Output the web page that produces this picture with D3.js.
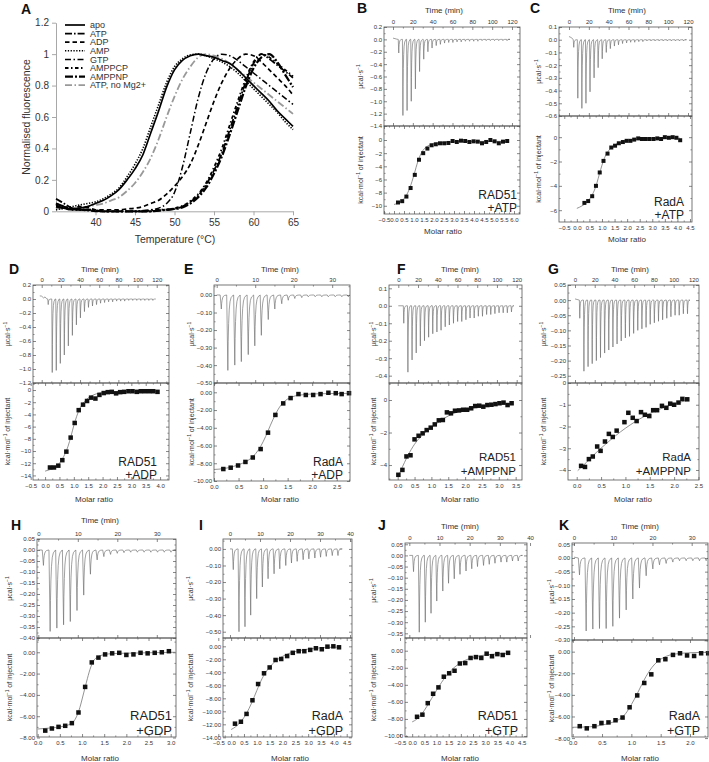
<!DOCTYPE html>
<html><head><meta charset="utf-8">
<script src="https://cdn.jsdelivr.net/npm/d3@7"></script>
<style>body{margin:0;background:#fff}svg{display:block}</style>
</head><body>
<script>
// ================= PANEL A: thermal shift data =================
const meltTemps = [35,36,37,38,39,40,41,42,43,44,45,46,47,48,49,50,51,52,53,54,55,56,57,58,59,60,61,62,63,64,65];
const meltSeries = ['apo','ATP','ADP','AMP','GTP','AMPPCP','AMPPNP','ATP, no Mg2+'];
const melt_apo    = [0.03,0.02,0.015,0.02,0.03,0.05,0.07,0.1,0.14,0.2,0.27,0.36,0.5,0.64,0.79,0.9,0.96,0.99,1.0,0.99,0.98,0.96,0.94,0.9,0.85,0.8,0.75,0.7,0.64,0.59,0.54];
const melt_ATP    = [0.08,0.05,0.02,0.01,0.005,0,0,0,0,0,0,0,0,0.005,0.01,0.015,0.03,0.06,0.1,0.17,0.26,0.37,0.52,0.67,0.82,0.94,1.0,0.97,0.93,0.89,0.85];
const melt_ADP    = [0.05,0.03,0.015,0.03,0.025,0.01,0.01,0.01,0.01,0.015,0.02,0.03,0.05,0.07,0.11,0.16,0.22,0.3,0.42,0.56,0.7,0.82,0.91,0.97,1.0,0.99,0.95,0.9,0.85,0.8,0.74];
const melt_AMP    = [0.01,0.02,0.03,0.04,0.05,0.06,0.08,0.11,0.15,0.22,0.3,0.4,0.54,0.68,0.82,0.92,0.97,0.995,1.0,0.99,0.97,0.95,0.92,0.88,0.83,0.78,0.73,0.68,0.63,0.57,0.52];
const melt_GTP    = [0.04,0.02,0.01,0.01,0.01,0,0,0,0,0,0,0.005,0.01,0.02,0.05,0.12,0.28,0.5,0.72,0.88,0.97,1.0,0.99,0.96,0.92,0.88,0.84,0.8,0.76,0.72,0.68];
const melt_AMPPCP = [0.03,0.02,0.01,0.01,0.01,0.005,0,0,0,0,0,0,0.005,0.01,0.01,0.02,0.035,0.065,0.11,0.18,0.28,0.4,0.55,0.7,0.84,0.95,1.0,0.98,0.94,0.9,0.86];
const melt_AMPPNP = [0.05,0.03,0.015,0.01,0.01,0.005,0,0,0,0,0,0,0,0.005,0.01,0.015,0.025,0.05,0.09,0.15,0.24,0.35,0.49,0.64,0.79,0.91,0.98,1.0,0.95,0.87,0.79];
const melt_noMg   = [0.02,0.015,0.02,0.02,0.03,0.04,0.05,0.07,0.09,0.13,0.18,0.25,0.34,0.46,0.6,0.73,0.84,0.92,0.98,1.0,0.99,0.97,0.94,0.9,0.86,0.82,0.78,0.74,0.7,0.66,0.62];
const meltYTicks = [0,0.2,0.4,0.6,0.8,1,1.2];
const meltYLabels = ['0','0.2','0.4','0.6','0.8','1','1.2'];
const meltXTicks = [40,45,50,55,60,65];
const meltXLabels = ['40','45','50','55','60','65'];

// ================= ITC data (injection times min, peak µcal/s; molar ratio, kcal/mol) =================
const T120 = [0,20,40,60,80,100,120], T30 = [0,10,20,30], T40 = [0,10,20,30,40];

const B_injT = [5.3,9.5,13.7,17.9,22.1,26.3,30.5,34.7,38.9,43.1,47.3,51.5,55.7,59.9,64.1,68.3,72.5,76.7,80.9,85.1,89.3,93.5,97.7,101.9,106.1,110.3,114.5];
const B_injD = [-0.22,-1.23,-1.15,-1.0,-0.8,-0.52,-0.32,-0.2,-0.14,-0.1,-0.08,-0.06,-0.05,-0.05,-0.04,-0.04,-0.03,-0.03,-0.03,-0.03,-0.02,-0.02,-0.02,-0.02,-0.02,-0.02,-0.02];
const B_pre = [[0,0.02],[2,0.012],[4,0.003]];
const B_ratio = [0.20,0.41,0.62,0.83,1.04,1.25,1.46,1.67,1.88,2.09,2.30,2.51,2.72,2.93,3.14,3.35,3.56,3.77,3.98,4.19,4.40,4.61,4.82,5.03,5.24,5.45,5.66];
const B_heat = [-9.5,-9.3,-8.6,-7.3,-5.3,-3.0,-2.0,-1.3,-0.8,-0.65,-0.5,-0.5,-0.45,-0.15,-0.3,-0.1,-0.15,-0.3,-0.2,-0.25,-0.5,-0.3,0.0,-0.2,-0.5,-0.25,-0.15];
const B_fitX = [0,0.2,0.4,0.6,0.8,0.9,1.0,1.1,1.2,1.3,1.4,1.6,1.8,2.0,2.4,3.0,4.0,5.7];
const B_fitY = [-9.8,-9.6,-9.2,-8.5,-7.2,-6.3,-5.3,-4.2,-3.2,-2.4,-1.8,-1.1,-0.75,-0.55,-0.38,-0.28,-0.22,-0.2];
const B_uT = [0.2,0,-0.2,-0.4,-0.6,-0.8,-1.0,-1.2,-1.4], B_lT = [0,-2,-4,-6,-8,-10];
const B_rT = [-0.5,0,0.5,1,1.5,2,2.5,3,3.5,4,4.5,5,5.5,6];

const C_injT = [4.3,8.4,12.5,16.6,20.7,24.8,28.9,33.0,37.1,41.2,45.3,49.4,53.5,57.6,61.7,65.8,69.9,74.0,78.1,82.2,86.3,90.4,94.5,98.6,102.7,106.8,110.9,115.0];
const C_injD = [-0.06,-0.46,-0.54,-0.5,-0.41,-0.3,-0.22,-0.15,-0.1,-0.07,-0.05,-0.04,-0.03,-0.025,-0.02,-0.02,-0.015,-0.015,-0.01,-0.01,-0.01,-0.01,-0.01,-0.01,-0.01,-0.01,-0.01,-0.01];
const C_pre = [[0,0.025],[2,0.018],[4,0.005]];
const C_ratio = [0.30,0.45,0.61,0.76,0.91,1.06,1.22,1.37,1.52,1.67,1.83,1.98,2.13,2.28,2.44,2.59,2.74,2.89,3.05,3.20,3.35,3.50,3.66,3.81,3.96,4.11];
const C_heat = [-5.4,-5.25,-4.85,-4.0,-2.9,-1.95,-1.35,-0.85,-0.7,-0.5,-0.4,-0.3,-0.3,-0.2,-0.1,-0.15,-0.15,-0.15,-0.15,-0.1,-0.15,0.0,-0.05,0.0,-0.05,-0.25];
const C_fitX = [0,0.2,0.4,0.55,0.7,0.8,0.9,1.0,1.1,1.2,1.35,1.5,1.8,2.2,3.0,4.1];
const C_fitY = [-5.85,-5.65,-5.35,-4.95,-4.35,-3.75,-3.0,-2.3,-1.7,-1.3,-0.9,-0.65,-0.38,-0.22,-0.12,-0.08];
const C_uT = [0.1,0,-0.1,-0.2,-0.3,-0.4,-0.5,-0.6], C_lT = [0,-2,-4,-6];
const C_rT = [-0.5,0,0.5,1,1.5,2,2.5,3,3.5,4,4.5];

const D_injT = [6.3,10.5,14.7,18.9,23.1,27.3,31.5,35.7,39.9,44.1,48.3,52.5,56.7,60.9,65.1,69.3,73.5,77.7,81.9,86.1,90.3,94.5,98.7,102.9,107.1,111.3,115.5];
const D_injD = [-0.08,-1.05,-1.02,-0.92,-0.8,-0.67,-0.52,-0.37,-0.27,-0.18,-0.12,-0.1,-0.08,-0.06,-0.05,-0.04,-0.04,-0.03,-0.03,-0.03,-0.02,-0.02,-0.02,-0.02,-0.02,-0.02,-0.02];
const D_pre = [[-2,0.045],[0,0.04],[2,0.015],[3.5,0.03],[5,0.005]];
const D_ratio = [0.17,0.31,0.46,0.60,0.74,0.89,1.03,1.17,1.32,1.46,1.60,1.75,1.89,2.04,2.18,2.32,2.47,2.61,2.75,2.90,3.04,3.19,3.33,3.47,3.62,3.76,3.91];
const D_heat = [-12.7,-12.7,-12.4,-11.5,-10.1,-7.8,-5.4,-3.3,-2.4,-1.8,-1.25,-1.4,-0.8,-0.5,-0.35,-0.3,-0.55,-0.35,-0.3,-0.2,-0.2,-0.3,-0.2,-0.2,-0.2,-0.2,-0.3];
const D_fitX = [0,0.2,0.35,0.5,0.6,0.7,0.8,0.9,1.0,1.1,1.2,1.3,1.45,1.6,1.8,2.1,2.6,3.9];
const D_fitY = [-13.3,-13.0,-12.7,-12.0,-11.3,-10.4,-9.2,-7.6,-5.8,-4.3,-3.1,-2.3,-1.5,-1.0,-0.6,-0.35,-0.25,-0.2];
const D_uT = [0.2,0,-0.2,-0.4,-0.6,-0.8,-1.0,-1.2], D_lT = [0,-2,-4,-6,-8,-10,-12,-14];
const D_rT = [-0.5,0,0.5,1,1.5,2,2.5,3,3.5,4];

const E_injT = [0.9,2.6,4.4,6.1,7.9,9.6,11.3,13.1,14.8,16.6,18.3,20.0,21.8,23.5,25.3,27.0,28.7,30.5,32.2,33.9];
const E_injD = [-0.08,-0.43,-0.4,-0.38,-0.34,-0.29,-0.23,-0.14,-0.08,-0.05,-0.03,-0.02,-0.015,-0.01,-0.01,-0.01,-0.01,-0.01,-0.01,-0.01];
const E_pre = [[0,0]];
const E_ratio = [0.19,0.34,0.49,0.64,0.79,0.95,1.10,1.25,1.41,1.56,1.72,1.87,2.02,2.17,2.33,2.48,2.60,2.75];
const E_heat = [-8.65,-8.5,-8.25,-7.85,-7.35,-6.4,-4.55,-2.55,-1.25,-0.65,-0.2,-0.3,-0.3,-0.2,-0.05,-0.1,-0.2,-0.1];
const E_fitX = [0,0.2,0.4,0.6,0.75,0.85,0.95,1.05,1.15,1.25,1.35,1.45,1.6,1.8,2.1,2.75];
const E_fitY = [-8.7,-8.6,-8.35,-7.95,-7.45,-6.9,-6.1,-5.0,-3.7,-2.5,-1.55,-0.95,-0.5,-0.28,-0.17,-0.12];
const E_uT = [0,-0.1,-0.2,-0.3,-0.4,-0.5], E_lT = [0,-2,-4,-6,-8,-10];
const E_rT = [0,0.5,1,1.5,2,2.5];

const F_injT = [5.1,9.3,13.5,17.7,21.9,26.1,30.3,34.5,38.7,42.9,47.1,51.3,55.5,59.7,63.9,68.1,72.3,76.5,80.7,84.9,89.1,93.3,97.5,101.7,105.9,110.1,114.3];
const F_injD = [-0.1,-0.38,-0.31,-0.27,-0.23,-0.2,-0.18,-0.16,-0.15,-0.14,-0.12,-0.11,-0.1,-0.09,-0.09,-0.08,-0.07,-0.07,-0.06,-0.06,-0.05,-0.05,-0.045,-0.04,-0.04,-0.04,-0.035];
const F_pre = [[0,0]];
const F_ratio = [0.02,0.14,0.26,0.38,0.50,0.62,0.74,0.86,0.98,1.10,1.22,1.34,1.46,1.58,1.70,1.82,1.94,2.06,2.18,2.30,2.42,2.54,2.66,2.78,2.90,3.02,3.14,3.26,3.38];
const F_heat = [-4.6,-4.3,-3.47,-3.4,-2.42,-2.2,-2.05,-1.85,-1.7,-1.5,-1.25,-1.23,-0.76,-0.82,-0.66,-0.64,-0.6,-0.6,-0.51,-0.37,-0.35,-0.41,-0.31,-0.29,-0.25,-0.2,-0.16,-0.31,-0.2];
const F_fitX = [0.02,0.1,0.2,0.3,0.4,0.5,0.6,0.8,1.0,1.2,1.4,1.6,1.8,2.0,2.4,2.8,3.37];
const F_fitY = [-4.7,-4.3,-3.85,-3.42,-3.05,-2.72,-2.45,-2.02,-1.68,-1.38,-1.1,-0.88,-0.72,-0.6,-0.43,-0.32,-0.22];
const F_uT = [0.1,0,-0.1,-0.2,-0.3,-0.4], F_lT = [0,-2,-4];
const F_rT = [0,0.5,1,1.5,2,2.5,3,3.5];

const G_injT = [4.4,8.6,12.8,17.0,21.2,25.4,29.6,33.8,38.0,42.2,46.4,50.6,54.8,59.0,63.2,67.4,71.6,75.8,80.0,84.2,88.4,92.6,96.8,101.0,105.2,109.4,113.6];
const G_injD = [-0.06,-0.235,-0.22,-0.21,-0.2,-0.19,-0.175,-0.165,-0.155,-0.145,-0.135,-0.125,-0.12,-0.11,-0.1,-0.095,-0.09,-0.08,-0.075,-0.07,-0.065,-0.06,-0.055,-0.05,-0.05,-0.045,-0.045];
const G_pre = [[0,0.004]];
const G_ratio = [0.09,0.17,0.25,0.33,0.42,0.49,0.58,0.66,0.74,0.82,0.98,1.06,1.15,1.23,1.32,1.40,1.49,1.57,1.65,1.75,1.84,1.92,2.00,2.09,2.17,2.27];
const G_heat = [-3.81,-3.86,-3.5,-3.38,-2.92,-3.12,-2.69,-2.34,-2.48,-2.19,-1.8,-1.37,-1.6,-1.75,-1.34,-1.46,-1.52,-1.25,-1.25,-1.05,-1.14,-0.95,-1.0,-0.9,-0.73,-0.75];
const G_fitX = [0.02,0.2,0.4,0.6,0.8,1.0,1.2,1.4,1.6,1.8,2.0,2.27];
const G_fitY = [-4.03,-3.65,-3.2,-2.8,-2.42,-2.08,-1.78,-1.52,-1.3,-1.12,-0.96,-0.8];
const G_uT = [0.05,0,-0.05,-0.1,-0.15,-0.2,-0.25], G_lT = [0,-1,-2,-3,-4];
const G_rT = [0,0.5,1,1.5,2,2.5];

const H_injT = [1.0,2.7,4.4,6.1,7.8,9.5,11.2,12.9,14.6,16.3,18.0,19.7,21.4,23.1,24.8,26.5,28.2,29.9,31.6,33.3];
const H_injD = [-0.07,-0.37,-0.355,-0.34,-0.325,-0.275,-0.205,-0.11,-0.045,-0.03,-0.02,-0.015,-0.012,-0.01,-0.01,-0.01,-0.01,-0.01,-0.01,-0.01];
const H_pre = [[0,0]];
const H_ratio = [0.17,0.32,0.47,0.62,0.77,0.92,1.07,1.22,1.37,1.52,1.68,1.84,2.00,2.16,2.32,2.48,2.64,2.80,2.96];
const H_heat = [-7.35,-7.15,-7.0,-6.9,-6.65,-5.65,-3.25,-0.95,-0.5,-0.2,-0.1,-0.05,-0.25,-0.2,-0.05,-0.1,-0.05,0.0,0.1];
const H_fitX = [0,0.3,0.5,0.7,0.8,0.88,0.95,1.02,1.1,1.18,1.26,1.35,1.5,1.7,2.2,3.1];
const H_fitY = [-7.2,-7.1,-7.0,-6.8,-6.55,-6.0,-5.2,-4.1,-2.8,-1.6,-0.8,-0.45,-0.22,-0.12,-0.07,0.0];
const H_uT = [0.05,0,-0.05,-0.1,-0.15,-0.2,-0.25,-0.3,-0.35,-0.4], H_lT = [0,-2,-4,-6,-8];
const H_rT = [0,0.5,1,1.5,2,2.5,3];

const I_injT = [0.8,2.7,4.7,6.6,8.6,10.5,12.4,14.4,16.3,18.3,20.2,22.1,24.1,26.0,28.0,29.9,31.8,33.8,35.7];
const I_injD = [-0.125,-0.5,-0.47,-0.4,-0.3,-0.23,-0.18,-0.15,-0.12,-0.1,-0.085,-0.075,-0.065,-0.06,-0.055,-0.05,-0.045,-0.04,-0.04];
const I_pre = [[0,0]];
const I_ratio = [0.15,0.38,0.60,0.83,1.05,1.28,1.50,1.73,1.95,2.18,2.40,2.63,2.85,3.08,3.30,3.53,3.75,3.98,4.20];
const I_heat = [-11.9,-11.6,-10.4,-8.3,-5.8,-4.15,-3.25,-2.1,-1.95,-1.5,-1.0,-0.75,-0.75,-0.55,-0.3,-0.45,-0.05,0.0,-0.15];
const I_fitX = [0,0.2,0.4,0.6,0.8,1.0,1.2,1.4,1.6,1.8,2.0,2.4,2.8,3.2,3.8,4.2];
const I_fitY = [-12.8,-12.3,-11.5,-10.3,-8.7,-6.8,-5.0,-3.7,-2.75,-2.05,-1.55,-0.9,-0.55,-0.33,-0.17,-0.12];
const I_uT = [0,-0.1,-0.2,-0.3,-0.4,-0.5], I_lT = [0,-2,-4,-6,-8,-10,-12,-14];
const I_rT = [-0.5,0,0.5,1,1.5,2,2.5,3,3.5,4,4.5];

const J_injT = [1.1,3.0,5.0,6.9,8.8,10.8,12.7,14.6,16.5,18.5,20.4,22.3,24.3,26.2,28.1,30.1,32.0,33.9,35.8];
const J_injD = [-0.073,-0.345,-0.3,-0.26,-0.205,-0.16,-0.125,-0.105,-0.085,-0.07,-0.06,-0.05,-0.045,-0.04,-0.035,-0.03,-0.03,-0.025,-0.025];
const J_pre = [[0,0]];
const J_ratio = [0.20,0.42,0.64,0.86,1.08,1.30,1.52,1.74,1.96,2.18,2.40,2.62,2.84,3.06,3.28,3.50,3.72,3.94];
const J_heat = [-7.75,-7.5,-6.15,-5.05,-4.3,-3.05,-2.65,-2.35,-1.5,-1.45,-0.85,-0.75,-0.85,-0.35,-0.65,-0.4,-0.5,-0.25];
const J_fitX = [0,0.2,0.4,0.6,0.8,1.0,1.2,1.4,1.6,1.8,2.0,2.2,2.5,3.0,3.5,4.0];
const J_fitY = [-8.35,-8.0,-7.4,-6.55,-5.6,-4.65,-3.75,-2.95,-2.3,-1.8,-1.4,-1.1,-0.78,-0.5,-0.37,-0.3];
const J_uT = [0.05,0,-0.05,-0.1,-0.15,-0.2,-0.25,-0.3,-0.35], J_lT = [0,-2,-4,-6,-8,-10];
const J_rT = [-0.5,0,0.5,1,1.5,2,2.5,3,3.5,4,4.5];

const K_injT = [1.1,2.8,4.5,6.2,7.9,9.6,11.3,13.0,14.7,16.4,18.1,19.8,21.5,23.2,24.9,26.6,28.3,30.0,31.7,33.4];
const K_injD = [-0.062,-0.267,-0.26,-0.258,-0.258,-0.25,-0.22,-0.19,-0.15,-0.11,-0.065,-0.04,-0.025,-0.02,-0.015,-0.01,-0.01,-0.01,-0.01,-0.01];
const K_pre = [[0,0.003]];
const K_ratio = [0.12,0.24,0.37,0.49,0.61,0.73,0.85,0.97,1.10,1.22,1.34,1.46,1.58,1.71,1.83,1.95,2.07,2.19,2.31];
const K_heat = [-6.9,-7.1,-6.9,-6.6,-6.55,-6.35,-6.1,-5.15,-4.05,-2.9,-2.1,-0.8,-0.7,-0.3,-0.15,-0.35,-0.4,-0.15,-0.15];
const K_fitX = [0,0.3,0.5,0.7,0.8,0.9,1.0,1.1,1.2,1.3,1.4,1.5,1.6,1.8,2.0,2.31];
const K_fitY = [-7.0,-6.95,-6.8,-6.5,-6.25,-5.75,-4.9,-3.9,-2.8,-1.85,-1.15,-0.7,-0.42,-0.18,-0.1,-0.06];
const K_uT = [0.05,0,-0.05,-0.1,-0.15,-0.2,-0.25,-0.3], K_lT = [0,-2,-4,-6,-8];
const K_rT = [0,0.5,1,1.5,2];

// ================= drawing =================
const FONT = '"Liberation Sans", Arial, Helvetica, sans-serif';
const svg = d3.select('body').append('svg').attr('width',709).attr('height',762).style('font-family',FONT);
svg.append('rect').attr('width',709).attr('height',762).attr('fill','#fff');
const defs = svg.append('defs');

function panelLetter(t,x,y){ svg.append('text').attr('x',x).attr('y',y).attr('font-size',14).attr('font-weight','bold').attr('fill','#111').text(t); }

// ---------- Panel A ----------
(function(){
  const xA = d3.scaleLinear().domain([35,65]).range([56,293]);
  const yA = d3.scaleLinear().domain([0,1.2]).range([211.3,22.7]);
  const g = svg.append('g');
  const aL = g.append('g').attr('transform','translate(56,0)')
    .call(d3.axisLeft(yA).tickValues(meltYTicks).tickFormat((d,i)=>meltYLabels[i]).tickSize(4).tickSizeOuter(0).tickPadding(3));
  const aB = g.append('g').attr('transform','translate(0,211.3)')
    .call(d3.axisBottom(xA).tickValues(meltXTicks).tickFormat((d,i)=>meltXLabels[i]).tickSize(4).tickSizeOuter(0).tickPadding(4));
  [aL,aB].forEach(s=>{ s.attr('font-family',null).attr('font-size',null);
    s.selectAll('path,line').attr('stroke','#a8a8a8').attr('stroke-width',1);
    s.selectAll('text').attr('font-size',10).attr('fill','#333'); });
  g.append('text').attr('transform','translate(30,117) rotate(-90)').attr('text-anchor','middle')
    .attr('font-size',10.5).attr('fill','#333').text('Normalised fluorescence');
  g.append('text').attr('x',175).attr('y',243).attr('text-anchor','middle').attr('font-size',10.5).attr('fill','#333').text('Temperature (°C)');
  const vals = [melt_apo,melt_ATP,melt_ADP,melt_AMP,melt_GTP,melt_AMPPCP,melt_AMPPNP,melt_noMg];
  const styles = [
    {c:'#000',w:1.7,d:null},
    {c:'#000',w:1.8,d:'7,2,1.6,2'},
    {c:'#000',w:1.7,d:'4.5,3'},
    {c:'#000',w:1.6,d:'1.3,1.5'},
    {c:'#000',w:1.5,d:'6,2.5,1.5,2.5'},
    {c:'#000',w:1.8,d:'3.5,2.5,1.5,2.5'},
    {c:'#000',w:2.3,d:'8,2,2,2'},
    {c:'#999',w:1.8,d:'7,2.5,1.5,2.5'}];
  const line = d3.line().curve(d3.curveMonotoneX).x((d,i)=>xA(meltTemps[i])).y(d=>yA(d));
  const order = [7,0,3,4,2,1,5,6];
  order.forEach(k=>{ const s=styles[k];
    g.append('path').attr('d',line(vals[k])).attr('fill','none').attr('stroke',s.c).attr('stroke-width',s.w)
     .attr('stroke-dasharray',s.d).attr('stroke-linejoin','round'); });
  meltSeries.forEach((name,k)=>{ const s=styles[k]; const y=25+k*8.6;
    g.append('line').attr('x1',65).attr('x2',85).attr('y1',y).attr('y2',y).attr('stroke',s.c).attr('stroke-width',s.w).attr('stroke-dasharray',s.d);
    g.append('text').attr('x',90).attr('y',y+3.2).attr('font-size',9).attr('fill','#333').text(name); });
  panelLetter('A',21,14);
})();

// ---------- ITC panels ----------
const SPIKE = [[0.06,0.62],[0.14,0.38],[0.25,0.2],[0.4,0.09],[0.6,0.035],[1,0]]; // glyph shape of one injection peak

const itcPanels = [
 {k:'B', injT:B_injT, injD:B_injD, pre:B_pre, tEnd:116, ratio:B_ratio, heat:B_heat, fitX:B_fitX, fitY:B_fitY,
  tT:T120, uT:B_uT, lT:B_lT, rT:B_rT, fu:'.1f', fl:'d', fr:'.1f',
  x0:384,x1:520,top:27,mid:126,bot:214, tD:[-9.08,128.07], uD:[-1.4,0.2], lD:[-11.25,2.13], rD:[-0.5,6.3],
  fall:0.5, rec:3.0, sq:4, timeX:444, timeY:13, ytx:360, mrX:443, mrY:234, lab:['RAD51','+ATP'], lx:517, ly:[198.5,212], lfs:12},
 {k:'C', injT:C_injT, injD:C_injD, pre:C_pre, tEnd:117, ratio:C_ratio, heat:C_heat, fitX:C_fitX, fitY:C_fitY,
  tT:T120, uT:C_uT, lT:C_lT, rT:C_rT, fu:'.1f', fl:'d', fr:'.1f',
  x0:559,x1:692,top:27,mid:116,bot:222, tD:[-10.08,124.03], uD:[-0.6,0.1], lD:[-6.97,1.74], rD:[-0.71,4.58],
  fall:0.5, rec:3.0, sq:4, timeX:627, timeY:13, ytx:538, mrX:627, mrY:242, lab:['RadA','+ATP'], lx:684, ly:[205.5,219], lfs:12},
 {k:'D', injT:D_injT, injD:D_injD, pre:D_pre, tEnd:119, ratio:D_ratio, heat:D_heat, fitX:D_fitX, fitY:D_fitY,
  tT:T120, uT:D_uT, lT:D_lT, rT:D_rT, fu:'.1f', fl:'d', fr:'.1f',
  x0:33,x1:169,top:285,mid:383,bot:480, tD:[-9.08,132.8], uD:[-1.2,0.2], lD:[-14.75,1.15], rD:[-0.42,4.31],
  fall:0.5, rec:3.0, sq:4.5, timeX:100, timeY:272, ytx:7, mrX:94, mrY:501.5, lab:['RAD51','+ADP'], lx:157, ly:[465.5,478.5], lfs:12},
 {k:'E', injT:E_injT, injD:E_injD, pre:E_pre, tEnd:34.6, ratio:E_ratio, heat:E_heat, fitX:E_fitX, fitY:E_fitY,
  tT:T30, uT:E_uT, lT:E_lT, rT:E_rT, fu:'.2f', fl:'.2f', fr:'.1f',
  x0:214,x1:350,top:285,mid:383,bot:481, tD:[-0.7,34.63], uD:[-0.502,0.057], lD:[-10.0,1.05], rD:[0.0,2.77],
  fall:0.3, rec:1.4, sq:4.5, timeX:280, timeY:272, ytx:191, mrX:280, mrY:501.5, lab:['RadA','+ADP'], lx:343, ly:[465.5,478.5], lfs:12},
 {k:'F', injT:F_injT, injD:F_injD, pre:F_pre, tEnd:116, ratio:F_ratio, heat:F_heat, fitX:F_fitX, fitY:F_fitY,
  tT:T120, uT:F_uT, lT:F_lT, rT:F_rT, fu:'.1f', fl:'d', fr:'.1f',
  x0:389,x1:522,top:285,mid:383,bot:480, tD:[-9.43,125.4], uD:[-0.442,0.119], lD:[-4.92,1.046], rD:[-0.258,3.688],
  fall:0.45, rec:2.4, sq:4.5, timeX:460, timeY:272, ytx:373, mrX:460, mrY:501.5, lab:['RAD51','+AMPPNP'], lx:516, ly:[461,474.5], lfs:11.5},
 {k:'G', injT:G_injT, injD:G_injD, pre:G_pre, tEnd:115, ratio:G_ratio, heat:G_heat, fitX:G_fitX, fitY:G_fitY,
  tT:T120, uT:G_uT, lT:G_lT, rT:G_rT, fu:'.2f', fl:'d', fr:'.1f',
  x0:568,x1:699,top:285,mid:383,bot:480, tD:[-7.1,125.7], uD:[-0.274,0.05], lD:[-4.46,0.0], rD:[-0.179,2.511],
  fall:0.45, rec:2.4, sq:4.5, timeX:630, timeY:272, ytx:543, mrX:633, mrY:501.5, lab:['RadA','+AMPPNP'], lx:691, ly:[461,474.5], lfs:11.5},
 {k:'H', injT:H_injT, injD:H_injD, pre:H_pre, tEnd:34.3, ratio:H_ratio, heat:H_heat, fitX:H_fitX, fitY:H_fitY,
  tT:T30, uT:H_uT, lT:H_lT, rT:H_rT, fu:'.2f', fl:'.2f', fr:'.1f',
  x0:37,x1:176,top:539,mid:638,bot:737, tD:[-0.33,34.86], uD:[-0.40,0.05], lD:[-7.95,1.34], rD:[-0.016,3.12],
  fall:0.3, rec:1.35, sq:4.5, timeX:100, timeY:523, ytx:9, mrX:100, mrY:761, lab:['RAD51','+GDP'], lx:172, ly:[719.5,735], lfs:13},
 {k:'I', injT:I_injT, injD:I_injD, pre:I_pre, tEnd:36.5, ratio:I_ratio, heat:I_heat, fitX:I_fitX, fitY:I_fitY,
  tT:T40, uT:I_uT, lT:I_lT, rT:I_rT, fu:'.2f', fl:'.2f', fr:'.1f',
  x0:223,x1:352,top:539,mid:638,bot:737, tD:[-2.33,40.67], uD:[-0.538,0.06], lD:[-13.95,1.28], rD:[-0.317,4.706],
  fall:0.3, rec:1.4, sq:4.5, timeX:null, timeY:null, ytx:190, mrX:290, mrY:761, lab:['RadA','+GDP'], lx:343, ly:[719.5,735], lfs:12.5},
 {k:'J', injT:J_injT, injD:J_injD, pre:J_pre, tEnd:37, ratio:J_ratio, heat:J_heat, fitX:J_fitX, fitY:J_fitY,
  tT:T40, uT:J_uT, lT:J_lT, rT:J_rT, fu:'.2f', fl:'.2f', fr:'.1f',
  x0:405,x1:527,top:543,mid:638,bot:737, tD:[-1.43,39.0], uD:[-0.371,0.0558], lD:[-10.12,1.49], rD:[-0.295,4.718],
  fall:0.3, rec:1.4, sq:4.5, timeX:460, timeY:529, ytx:373, mrX:460, mrY:761, lab:['RAD51','+GTP'], lx:518, ly:[719.5,735], lfs:12.5},
 {k:'K', injT:K_injT, injD:K_injD, pre:K_pre, tEnd:34.2, ratio:K_ratio, heat:K_heat, fitX:K_fitX, fitY:K_fitY,
  tT:T30, uT:K_uT, lT:K_lT, rT:K_rT, fu:'.2f', fl:'.2f', fr:'.1f',
  x0:572,x1:708,top:543,mid:640,bot:737, tD:[-0.51,34.16], uD:[-0.30,0.0548], lD:[-7.9,1.08], rD:[-0.012,2.307],
  fall:0.3, rec:1.3, sq:4.5, timeX:640, timeY:529, ytx:551, mrX:640, mrY:761, lab:['RadA','+GTP'], lx:700, ly:[719.5,735], lfs:12.5}
];
const letterPos = {B:[357,13],C:[530,13],D:[9,274],E:[184,274],F:[397,274],G:[548,274],H:[11,530],I:[199,530],J:[378,530],K:[559,530]};

function minorOf(ticks, dom){
  const st = ticks[1]-ticks[0], lo = Math.min(dom[0],dom[1]), hi = Math.max(dom[0],dom[1]);
  const out = [ticks[0]-st/2, ...ticks.map(t=>t+st/2)];
  return out.filter(v=>v>lo+1e-9 && v<hi-1e-9);
}
function drawAxis(g, gen, scale, tx, ty, ticks, fmt, labels, pad){
  const f = d3.format(fmt);
  const a = gen(scale).tickValues(ticks).tickSize(-3).tickSizeOuter(0).tickPadding(pad)
    .tickFormat(labels ? (d=>f(Math.abs(d)<1e-9?0:d)) : ()=>'');
  const s = g.append('g').attr('transform',`translate(${tx},${ty})`).call(a);
  s.select('.domain').remove();
  s.attr('font-family',null).attr('font-size',null);
  s.selectAll('line').attr('stroke','#555').attr('stroke-width',0.7);
  s.selectAll('text').attr('font-size',6).attr('fill','#333');
  const m = gen(scale).tickValues(minorOf(ticks, scale.domain())).tickSize(-1.6).tickSizeOuter(0).tickFormat(()=> '');
  const sm = g.append('g').attr('transform',`translate(${tx},${ty})`).call(m);
  sm.select('.domain').remove();
  sm.selectAll('line').attr('stroke','#555').attr('stroke-width',0.6);
}
function supText(g, x, y, rot, pre, post, fs){
  const t = g.append('text').attr('transform',`translate(${x},${y}) rotate(${rot})`).attr('text-anchor','middle')
    .attr('font-size',fs).attr('fill','#333');
  t.append('tspan').text(pre);
  t.append('tspan').attr('font-size',fs*0.7).attr('dy',-fs*0.35).text('−1');
  if(post) t.append('tspan').attr('dy',fs*0.35).text(post);
}

itcPanels.forEach(P=>{
  const g = svg.append('g');
  const xt = d3.scaleLinear().domain(P.tD).range([P.x0,P.x1]);
  const yu = d3.scaleLinear().domain(P.uD).range([P.mid,P.top]);
  const xr = d3.scaleLinear().domain(P.rD).range([P.x0,P.x1]);
  const yl = d3.scaleLinear().domain(P.lD).range([P.bot,P.mid]);
  defs.append('clipPath').attr('id','cu'+P.k).append('rect').attr('x',P.x0).attr('y',P.top).attr('width',P.x1-P.x0).attr('height',P.mid-P.top);
  defs.append('clipPath').attr('id','cl'+P.k).append('rect').attr('x',P.x0).attr('y',P.mid).attr('width',P.x1-P.x0).attr('height',P.bot-P.mid);

  // thermogram (raw power trace)
  const pts = P.pre.map(p=>p.slice());
  P.injT.forEach((t,i)=>{ const d=P.injD[i];
    pts.push([t,0],[t+P.fall,d]);
    SPIKE.forEach(([f,r])=>pts.push([t+P.fall+f*P.rec, d*r])); });
  pts.push([P.tEnd,0]);
  const ln = d3.line().x(d=>xt(d[0])).y(d=>yu(d[1]));
  g.append('path').attr('d',ln(pts)).attr('fill','none').attr('stroke','#6e6e6e').attr('stroke-width',0.65)
    .attr('stroke-linejoin','round').attr('clip-path',`url(#cu${P.k})`);

  // binding isotherm fit + integrated heats
  const fl = d3.line().curve(d3.curveMonotoneX).x(d=>xr(d[0])).y(d=>yl(d[1]));
  g.append('path').attr('d',fl(d3.zip(P.fitX,P.fitY))).attr('fill','none').attr('stroke','#777').attr('stroke-width',0.8)
    .attr('clip-path',`url(#cl${P.k})`);
  g.selectAll(null).data(d3.zip(P.ratio,P.heat)).join('rect')
    .attr('x',d=>xr(d[0])-P.sq/2).attr('y',d=>yl(d[1])-P.sq/2).attr('width',P.sq).attr('height',P.sq).attr('fill','#111');

  // frames
  g.append('rect').attr('x',P.x0).attr('y',P.top).attr('width',P.x1-P.x0).attr('height',P.mid-P.top).attr('fill','none').attr('stroke','#555').attr('stroke-width',0.8);
  g.append('rect').attr('x',P.x0).attr('y',P.mid).attr('width',P.x1-P.x0).attr('height',P.bot-P.mid).attr('fill','none').attr('stroke','#555').attr('stroke-width',0.8);

  // axes
  drawAxis(g, d3.axisTop, xt, 0, P.top, P.tT, 'd', true, 3);
  drawAxis(g, d3.axisBottom, xt, 0, P.mid, P.tT, 'd', false, 2);
  drawAxis(g, d3.axisLeft, yu, P.x0, 0, P.uT, P.fu, true, 2);
  drawAxis(g, d3.axisRight, yu, P.x1, 0, P.uT, P.fu, false, 2);
  drawAxis(g, d3.axisTop, xr, 0, P.mid, P.rT, P.fr, false, 2);
  drawAxis(g, d3.axisBottom, xr, 0, P.bot, P.rT, P.fr, true, 4);
  drawAxis(g, d3.axisLeft, yl, P.x0, 0, P.lT, P.fl, true, 2);
  drawAxis(g, d3.axisRight, yl, P.x1, 0, P.lT, P.fl, false, 2);

  // titles
  if(P.timeX!==null) g.append('text').attr('x',P.timeX).attr('y',P.timeY).attr('text-anchor','middle').attr('font-size',8).attr('fill','#333').text('Time (min)');
  g.append('text').attr('x',P.mrX).attr('y',P.mrY).attr('text-anchor','middle').attr('font-size',8).attr('fill','#333').text('Molar ratio');
  supText(g, P.ytx+2.5, (P.top+P.mid)/2, -90, 'µcal·s', null, 7);
  supText(g, P.ytx+2.5, (P.mid+P.bot)/2, -90, 'kcal·mol', ' of injectant', 7);
  P.lab.forEach((t,i)=> g.append('text').attr('x',P.lx).attr('y',P.ly[i]).attr('text-anchor','end')
     .attr('font-size',P.lfs).attr('fill','#222').text(t));
  panelLetter(P.k, letterPos[P.k][0], letterPos[P.k][1]);
});
</script>
</body></html>
